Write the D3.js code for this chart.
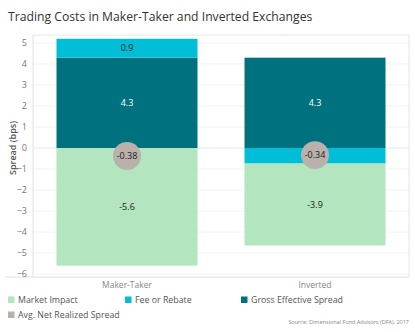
<!DOCTYPE html>
<html>
<head>
<meta charset="utf-8">
<script src="https://cdn.jsdelivr.net/npm/d3@7"></script>
<style>
  body { margin: 0; background: #fff; }
  text { font-family: "Open Sans", "Noto Sans", sans-serif; }
</style>
</head>
<body>
<svg id="chart"></svg>
<script>
// data
var exchanges = ["Maker-Taker", "Inverted"];
var grossSpread = [4.3, 4.3];
var feeRebate = [0.9, -0.74];
var marketImpact = [-5.6, -3.9];
var netSpread = [-0.38, -0.34];
var yTicks = [5, 4, 3, 2, 1, 0, -1, -2, -3, -4, -5, -6];

var W = 415, H = 332;
var margin = {top: 35, right: 6, bottom: 55, left: 33},
    width = W - margin.left - margin.right,
    height = H - margin.top - margin.bottom;

var colors = {
  impact: "#b3e5bf",
  fee: "#00bed6",
  gross: "#00727f",
  net: "#bab0ac"
};

var svg = d3.select("#chart")
    .attr("width", W)
    .attr("height", H);

svg.append("text")
    .attr("x", 8)
    .attr("y", 21)
    .style("font-size", "12.2px")
    .style("fill", "#333")
    .text("Trading Costs in Maker-Taker and Inverted Exchanges");

var g = svg.append("g")
    .attr("transform", "translate(" + margin.left + "," + margin.top + ")");

var x = d3.scaleBand()
    .domain(exchanges)
    .range([0, width])
    .paddingInner(0.25)
    .paddingOuter(0.125);

var y = d3.scaleLinear()
    .domain([-6.14, 5.38])
    .range([height, 0]);

// gridlines
g.selectAll(".grid")
    .data(yTicks)
  .enter().append("line")
    .attr("x1", 0).attr("x2", width)
    .attr("y1", function(d) { return y(d); })
    .attr("y2", function(d) { return y(d); })
    .style("stroke", function(d) { return d === 0 ? "#e6e6e6" : "#f2f2f2"; })
    .style("stroke-width", 1);

// frame
g.append("line").attr("x1", 0).attr("x2", width).attr("y1", 0).attr("y2", 0).style("stroke", "#e6e6e6");
g.append("line").attr("x1", width).attr("x2", width).attr("y1", 0).attr("y2", height).style("stroke", "#e6e6e6");
g.append("line").attr("x1", 0).attr("x2", 0).attr("y1", 0).attr("y2", height).style("stroke", "#e0e0e0");
g.append("line").attr("x1", -28).attr("x2", width).attr("y1", height).attr("y2", height).style("stroke", "#e0e0e0");

// y axis
var yAxis = g.append("g")
    .call(d3.axisLeft(y).tickValues(yTicks).tickSize(0).tickPadding(6));
yAxis.select(".domain").remove();
yAxis.selectAll("text")
    .style("font-size", "9px")
    .style("fill", "#777")
    .style("font-family", "\"Open Sans\", sans-serif");

g.append("text")
    .attr("transform", "rotate(-90)")
    .attr("x", -y(0))
    .attr("y", -17)
    .style("text-anchor", "middle")
    .style("font-size", "9px")
    .style("font-weight", "600")
    .style("fill", "#555")
    .text("Spread (bps)");

// x labels
var xAxis = g.append("g")
    .attr("transform", "translate(0," + height + ")")
    .call(d3.axisBottom(x).tickSize(0).tickPadding(5));
xAxis.select(".domain").remove();
xAxis.selectAll("text")
    .style("font-size", "8.5px")
    .style("fill", "#888")
    .style("font-family", "\"Open Sans\", sans-serif");

// build segments
var segs = [];
exchanges.forEach(function(e, i) {
  segs.push({ex: e, y0: 0, y1: grossSpread[i], v: grossSpread[i], c: colors.gross, tc: "#fff"});
  if (feeRebate[i] >= 0) {
    segs.push({ex: e, y0: grossSpread[i], y1: grossSpread[i] + feeRebate[i], v: feeRebate[i], c: colors.fee, tc: "#222", label: true});
    segs.push({ex: e, y0: 0, y1: marketImpact[i], v: marketImpact[i], c: colors.impact, tc: "#222"});
  } else {
    segs.push({ex: e, y0: 0, y1: feeRebate[i], v: feeRebate[i], c: colors.fee, tc: "#222", label: false});
    segs.push({ex: e, y0: feeRebate[i], y1: feeRebate[i] + marketImpact[i], v: marketImpact[i], c: colors.impact, tc: "#222"});
  }
});

g.selectAll(".seg")
    .data(segs)
  .enter().append("rect")
    .attr("x", function(d) { return x(d.ex); })
    .attr("width", x.bandwidth())
    .attr("y", function(d) { return y(Math.max(d.y0, d.y1)); })
    .attr("height", function(d) { return Math.abs(y(d.y0) - y(d.y1)); })
    .style("fill", function(d) { return d.c; });

g.selectAll(".seglabel")
    .data(segs.filter(function(d) { return d.label !== false; }))
  .enter().append("text")
    .attr("x", function(d) { return x(d.ex) + x.bandwidth() / 2; })
    .attr("y", function(d) { return y((d.y0 + d.y1) / 2); })
    .attr("dy", "0.35em")
    .style("text-anchor", "middle")
    .style("font-size", "9px")
    .style("fill", function(d) { return d.tc; })
    .text(function(d) { return d.v.toFixed(1); });

// net realized spread circles
var net = exchanges.map(function(e, i) { return {ex: e, v: netSpread[i]}; });
g.selectAll(".net")
    .data(net)
  .enter().append("circle")
    .attr("cx", function(d) { return x(d.ex) + x.bandwidth() / 2; })
    .attr("cy", function(d) { return y(d.v); })
    .attr("r", 14)
    .style("fill", colors.net);

g.selectAll(".netlabel")
    .data(net)
  .enter().append("text")
    .attr("x", function(d) { return x(d.ex) + x.bandwidth() / 2; })
    .attr("y", function(d) { return y(d.v); })
    .attr("dy", "0.35em")
    .style("text-anchor", "middle")
    .style("font-size", "9px")
    .style("fill", "#222")
    .text(function(d) { return d.v.toFixed(2); });

// legend
var legendItems = [
  {name: "Market Impact", c: colors.impact, x: 8, y: 300},
  {name: "Fee or Rebate", c: colors.fee, x: 125, y: 300},
  {name: "Gross Effective Spread", c: colors.gross, x: 241, y: 300},
  {name: "Avg. Net Realized Spread", c: colors.net, x: 8, y: 315}
];
var lg = svg.selectAll(".legend")
    .data(legendItems)
  .enter().append("g")
    .attr("transform", function(d) { return "translate(" + d.x + "," + d.y + ")"; });
lg.append("rect")
    .attr("x", 0).attr("y", -3.5)
    .attr("width", 6.5).attr("height", 6.5)
    .style("fill", function(d) { return d.c; });
lg.append("text")
    .attr("x", 10)
    .attr("y", 0)
    .attr("dy", "0.35em")
    .style("font-size", "8.8px")
    .style("fill", "#555")
    .text(function(d) { return d.name; });

svg.append("text")
    .attr("x", 409)
    .attr("y", 324)
    .style("text-anchor", "end")
    .style("font-size", "5.5px")
    .style("fill", "#888")
    .text("Source: Dimensional Fund Advisors (DFA), 2017");
</script>
</body>
</html>
